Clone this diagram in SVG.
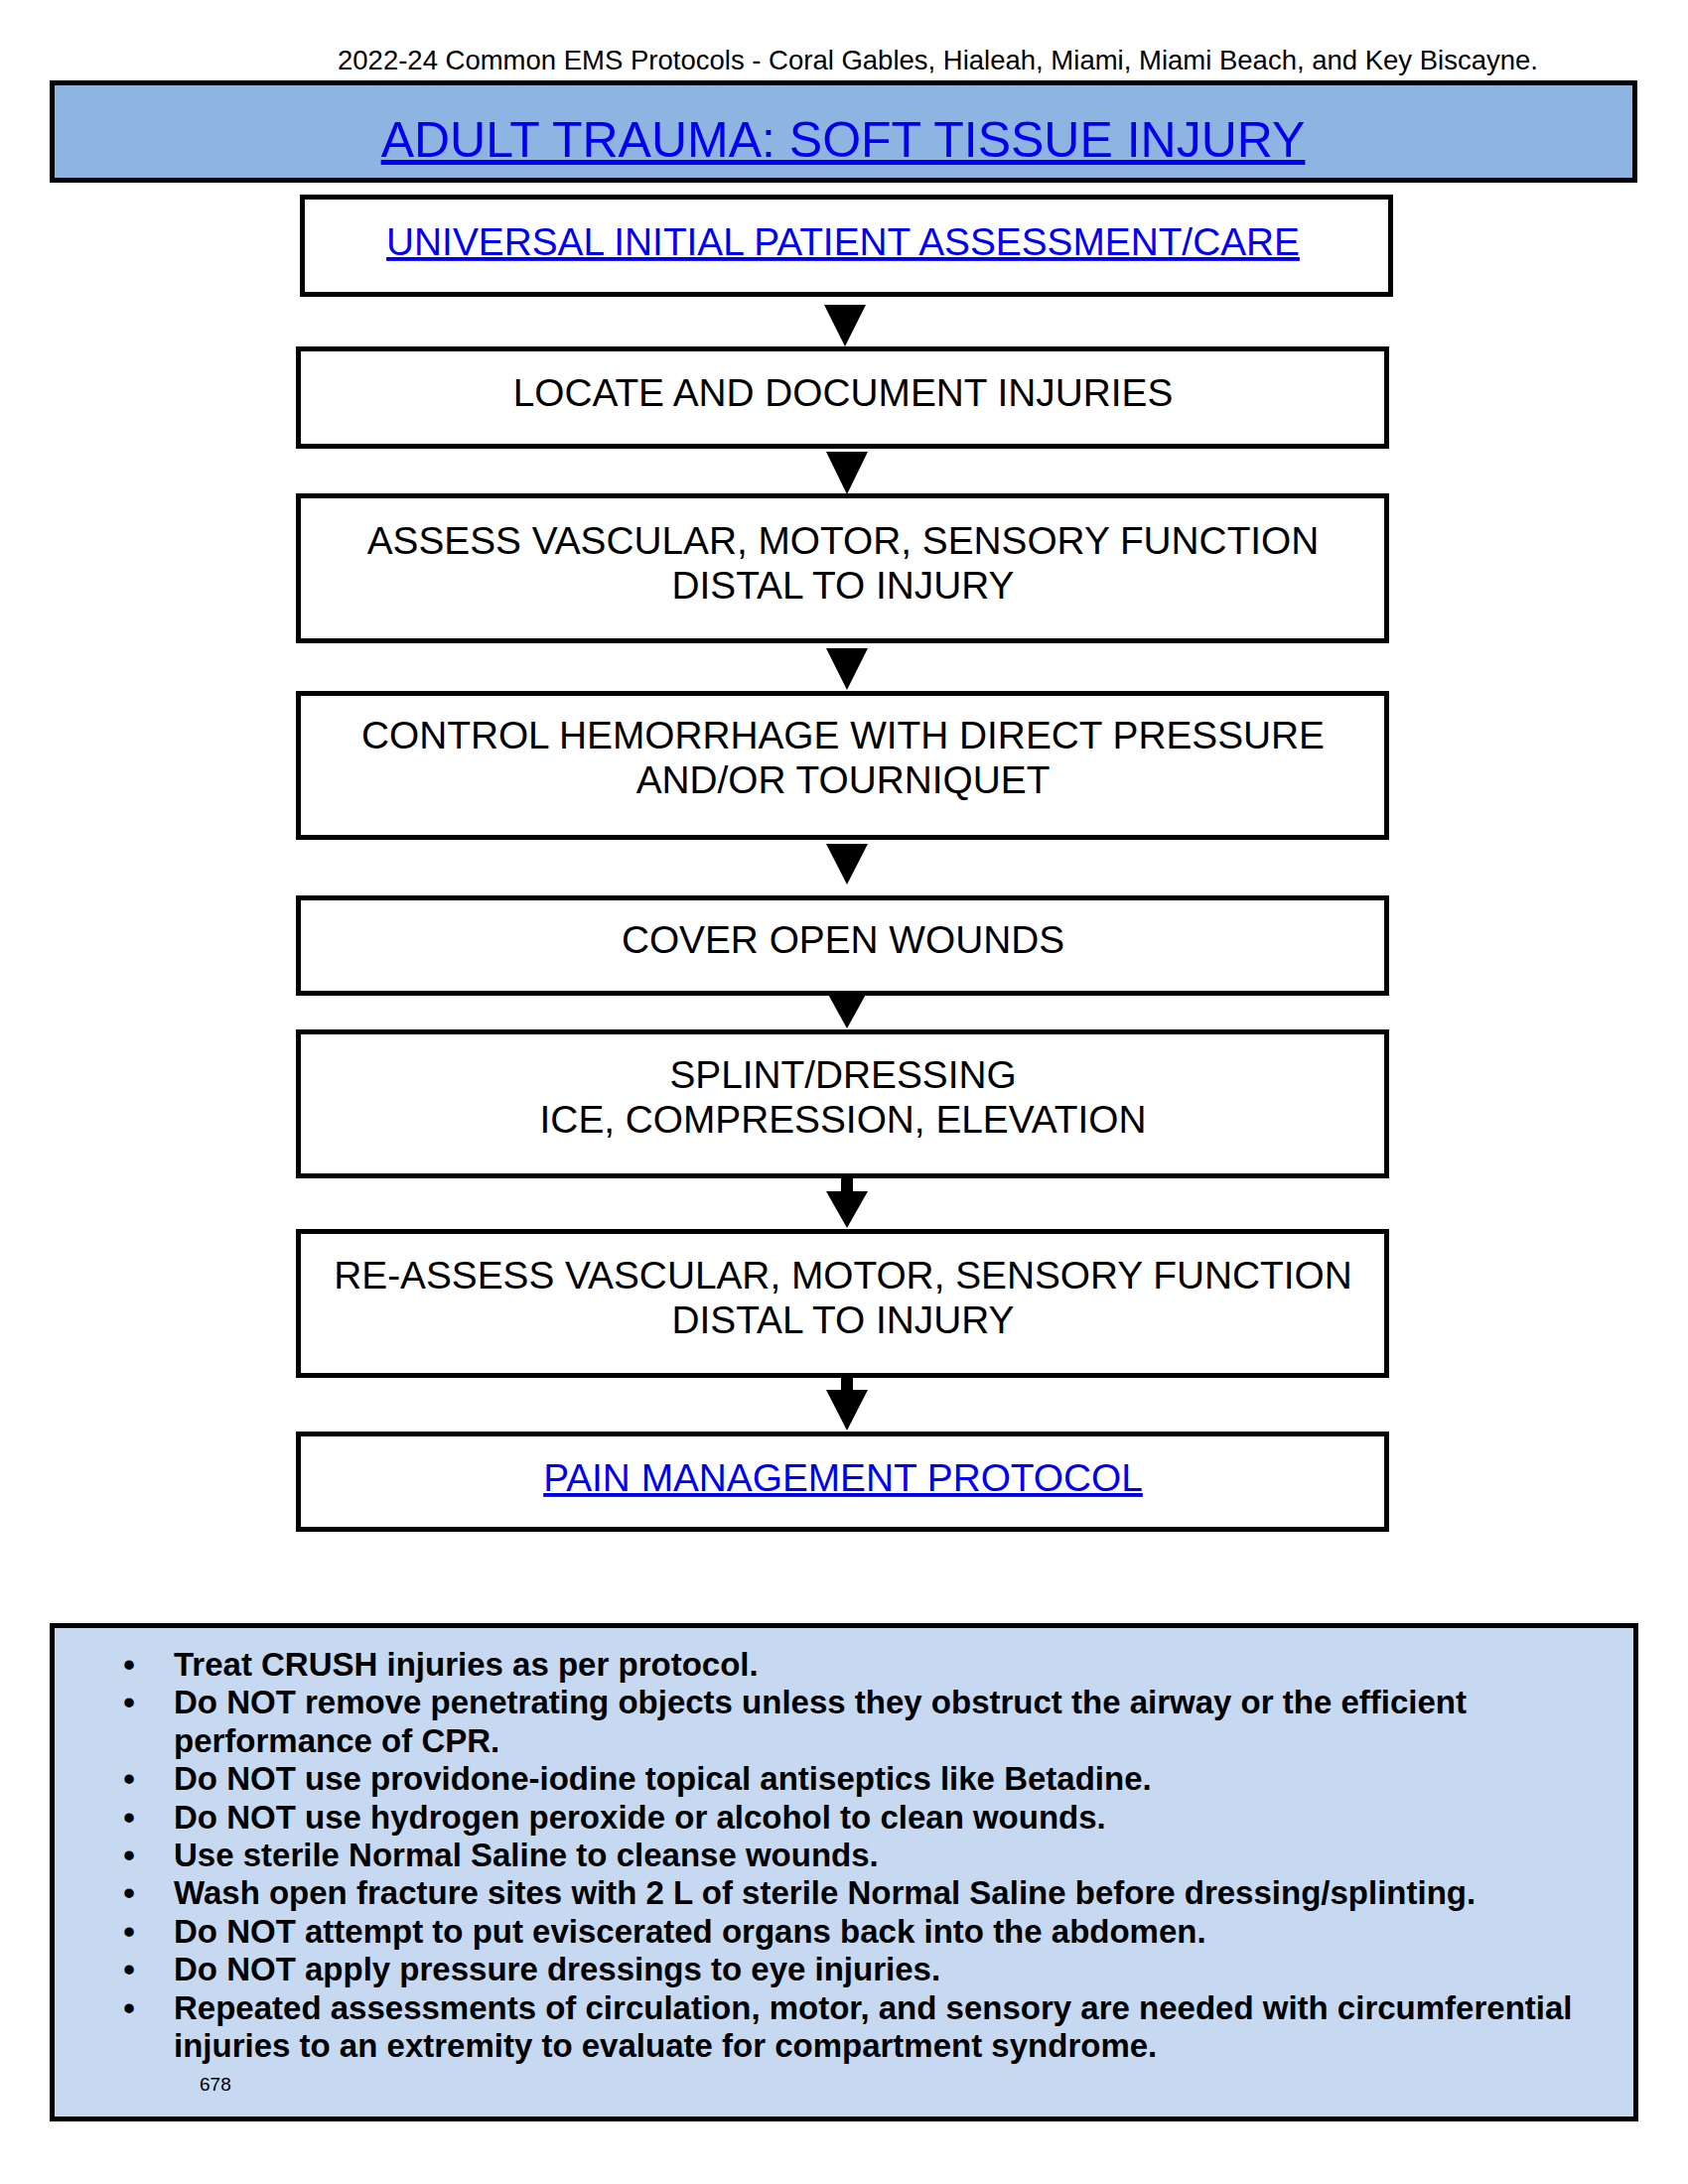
<svg xmlns="http://www.w3.org/2000/svg" width="1700" height="2200" viewBox="0 0 1700 2200">
<style>
  text { font-family: "Liberation Sans", Arial, sans-serif; }
  .hdr { font-size: 27.5px; fill: #000; }
  .box { fill: #fff; stroke: #000; stroke-width: 5; }
  .title { fill: #8EB4E2; stroke: #000; stroke-width: 5; }
  .notes { fill: #C6D9F1; stroke: #000; stroke-width: 5; }
  .t { font-size: 38.8px; fill: #000; text-anchor: middle; }
  .link { fill: #0000EE; text-decoration: underline; }
  .big { font-size: 50px; text-anchor: middle; text-decoration-thickness: 4px; }
  .n { font-size: 33px; font-weight: bold; fill: #000; }
  .b { font-size: 33px; font-weight: bold; fill: #000; text-anchor: middle; }
  .arr { fill: #000; }
</style>
<rect width="1700" height="2200" fill="#fff"/>
<text class="hdr" x="340" y="70">2022-24 Common EMS Protocols - Coral Gables, Hialeah, Miami, Miami Beach, and Key Biscayne.</text>

<g id="title">
  <rect class="title" x="52.5" y="83.5" width="1594" height="98"/>
  <text class="big link" x="849" y="158">ADULT TRAUMA: SOFT TISSUE INJURY</text>
</g>

<g id="n1">
  <rect class="box" x="304.5" y="198.5" width="1096" height="98"/>
  <text class="t link" x="849" y="257">UNIVERSAL INITIAL PATIENT ASSESSMENT/CARE</text>
</g>
<g id="n2">
  <rect class="box" x="300.5" y="351.5" width="1096" height="98"/>
  <text class="t" x="849" y="409">LOCATE AND DOCUMENT INJURIES</text>
</g>
<g id="n3">
  <rect class="box" x="300.5" y="499.5" width="1096" height="146"/>
  <text class="t" x="849" y="558">ASSESS VASCULAR, MOTOR, SENSORY FUNCTION</text>
  <text class="t" x="849" y="603">DISTAL TO INJURY</text>
</g>
<g id="n4">
  <rect class="box" x="300.5" y="698.5" width="1096" height="145"/>
  <text class="t" x="849" y="754">CONTROL HEMORRHAGE WITH DIRECT PRESSURE</text>
  <text class="t" x="849" y="799">AND/OR TOURNIQUET</text>
</g>
<g id="n5">
  <rect class="box" x="300.5" y="904.5" width="1096" height="96"/>
  <text class="t" x="849" y="960">COVER OPEN WOUNDS</text>
</g>
<g id="n6">
  <rect class="box" x="300.5" y="1039.5" width="1096" height="145"/>
  <text class="t" x="849" y="1096">SPLINT/DRESSING</text>
  <text class="t" x="849" y="1141">ICE, COMPRESSION, ELEVATION</text>
</g>
<g id="n7">
  <rect class="box" x="300.5" y="1240.5" width="1096" height="145"/>
  <text class="t" x="849" y="1298">RE-ASSESS VASCULAR, MOTOR, SENSORY FUNCTION</text>
  <text class="t" x="849" y="1343">DISTAL TO INJURY</text>
</g>
<g id="n8">
  <rect class="box" x="300.5" y="1444.5" width="1096" height="96"/>
  <text class="t link" x="849" y="1502">PAIN MANAGEMENT PROTOCOL</text>
</g>

<g id="connectors">
  <polygon class="arr" points="830,307 872,307 851,349"/>
  <polygon class="arr" points="832,455 874,455 853,498"/>
  <polygon class="arr" points="832,653 874,653 853,695"/>
  <polygon class="arr" points="832,850 874,850 853,891"/>
  <polygon class="arr" points="832,998 874,998 853,1036"/>
  <rect class="arr" x="847" y="1187" width="12" height="15"/>
  <polygon class="arr" points="832,1200 874,1200 853,1237"/>
  <rect class="arr" x="847" y="1388" width="12" height="14"/>
  <polygon class="arr" points="832,1400 874,1400 853,1441"/>
</g>

<g id="notes">
  <rect class="notes" x="52.5" y="1637.5" width="1595" height="497"/>
  <text class="b" x="130" y="1688">•</text>
  <text class="n" x="175" y="1688">Treat CRUSH injuries as per protocol.</text>
  <text class="b" x="130" y="1726.4">•</text>
  <text class="n" x="175" y="1726.4">Do NOT remove penetrating objects unless they obstruct the airway or the efficient</text>
  <text class="n" x="175" y="1764.8">performance of CPR.</text>
  <text class="b" x="130" y="1803.2">•</text>
  <text class="n" x="175" y="1803.2">Do NOT use providone-iodine topical antiseptics like Betadine.</text>
  <text class="b" x="130" y="1841.6">•</text>
  <text class="n" x="175" y="1841.6">Do NOT use hydrogen peroxide or alcohol to clean wounds.</text>
  <text class="b" x="130" y="1880">•</text>
  <text class="n" x="175" y="1880">Use sterile Normal Saline to cleanse wounds.</text>
  <text class="b" x="130" y="1918.4">•</text>
  <text class="n" x="175" y="1918.4">Wash open fracture sites with 2 L of sterile Normal Saline before dressing/splinting.</text>
  <text class="b" x="130" y="1956.8">•</text>
  <text class="n" x="175" y="1956.8">Do NOT attempt to put eviscerated organs back into the abdomen.</text>
  <text class="b" x="130" y="1995.2">•</text>
  <text class="n" x="175" y="1995.2">Do NOT apply pressure dressings to eye injuries.</text>
  <text class="b" x="130" y="2033.6">•</text>
  <text class="n" x="175" y="2033.6">Repeated assessments of circulation, motor, and sensory are needed with circumferential</text>
  <text class="n" x="175" y="2072">injuries to an extremity to evaluate for compartment syndrome.</text>
  <text x="201" y="2106" font-size="19" fill="#000">678</text>
</g>
</svg>
